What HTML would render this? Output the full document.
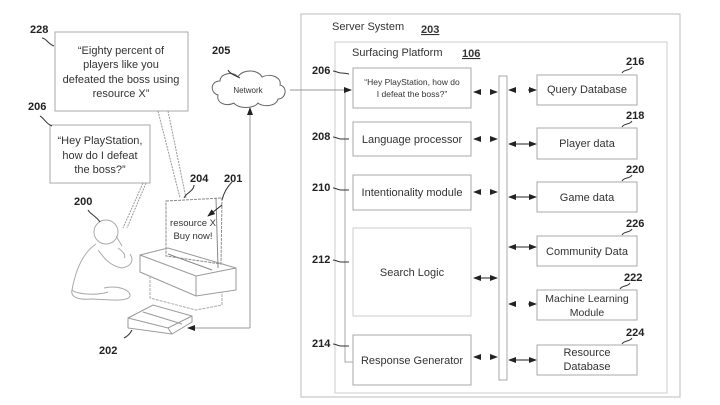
<!DOCTYPE html>
<html><head><meta charset="utf-8"><style>
html,body{margin:0;padding:0;background:#fff}
svg{display:block}
text{font-family:"Liberation Sans",sans-serif;fill:#333}
.b{font-weight:bold;fill:#222;font-size:11px}
</style></head><body>
<svg width="720" height="405" viewBox="0 0 720 405" xmlns="http://www.w3.org/2000/svg">
<defs>
<marker id="a" markerWidth="8" markerHeight="6" refX="7" refY="3" orient="auto" markerUnits="userSpaceOnUse"><path d="M0,0L8,3L0,6z" fill="#222"/></marker>
</defs>
<g fill="none" stroke="#aaa" stroke-width="1">
<rect x="55" y="32" width="133" height="79"/>
<rect x="50" y="125" width="100" height="58"/>
<rect x="301" y="14" width="379" height="383" stroke="#bbb"/>
<rect x="335" y="42" width="332" height="351" stroke="#ccc"/>
<rect x="353" y="68" width="118" height="40"/>
<rect x="353" y="122" width="118" height="34"/>
<rect x="353" y="175" width="118" height="35"/>
<rect x="353" y="228" width="118" height="88" stroke="#ccc"/>
<rect x="353" y="335" width="118" height="50"/>
<rect x="499" y="76" width="8" height="304"/>
<rect x="537" y="75" width="100" height="30"/>
<rect x="537" y="128" width="100" height="31"/>
<rect x="537" y="182" width="100" height="30"/>
<rect x="537" y="236" width="100" height="30"/>
<rect x="537" y="290" width="100" height="30"/>
<rect x="537" y="345" width="100" height="30"/>
<path d="M345,92V362H353"/>
<path d="M290,90H351" marker-end="url(#a)" stroke="#999"/>
<path d="M250,328V108" marker-end="url(#a)" stroke="#999"/>
<path d="M250,328H188" marker-end="url(#a)" stroke="#999"/>
<path d="M218,95c-8,-2 -8,-14 2,-14c0,-8 14,-10 18,-4c4,-8 20,-8 24,0c8,-4 20,0 18,8c8,2 6,14 -2,14c-2,8 -16,8 -20,4c-4,6 -20,6 -24,0c-8,4 -18,0 -16,-8z" stroke="#666"/>
<path d="M158,111L180,198M168,111L186,198" stroke-dasharray="2,1" stroke="#999"/>
<path d="M143,183L123,228M146,183L127,228" stroke-dasharray="2,1" stroke="#999"/>
<path d="M166,201L222,198L221,264L166,256Z" stroke-dasharray="3,1" stroke="#888"/>
<path d="M216,198L218,268" stroke="#888"/>
<path d="M168,254L212,270" stroke="#888"/>
<path d="M140,255L168,248L236,268L236,290L196,296L140,272Z M140,255L140,272 M140,255L196,276L236,268 M196,276L196,296" stroke="#999"/>
<path d="M150,276L150,298L196,310L222,305L222,292" stroke-dasharray="3,1"/>
<path d="M128,318L153,305L192,316L192,322L172,334L128,328Z M128,318L168,328L192,316 M168,328L172,334 M143,312L182,324" stroke="#999"/>
<g stroke="#aaa">
<circle cx="106" cy="232" r="12"/>
<path d="M96,244C84,252 76,268 72,290C70,298 80,300 92,299C110,300 128,302 130,296C131,290 118,285 104,288M98,250C104,258 110,266 122,268C132,266 134,260 130,254M116,236L122,246M118,248C124,252 126,256 124,258M72,290C76,294 96,296 108,292"/>
</g>
</g>
<g stroke="#222" stroke-width="1">
<path d="M480,92H474" marker-end="url(#a)"/><path d="M490,92H497" marker-end="url(#a)"/>
<path d="M480,139H474" marker-end="url(#a)"/><path d="M490,139H497" marker-end="url(#a)"/>
<path d="M480,192H474" marker-end="url(#a)"/><path d="M490,192H497" marker-end="url(#a)"/>
<path d="M474,278H497" marker-end="url(#a)"/><path d="M497,278H474" marker-end="url(#a)"/>
<path d="M480,357H474" marker-end="url(#a)"/><path d="M490,357H497" marker-end="url(#a)"/>
<path d="M515,90H509" marker-end="url(#a)"/><path d="M528,90H536" marker-end="url(#a)"/>
<path d="M509,144H536" marker-end="url(#a)"/><path d="M536,144H509" marker-end="url(#a)"/>
<path d="M509,197H536" marker-end="url(#a)"/><path d="M536,197H509" marker-end="url(#a)"/>
<path d="M509,247H536" marker-end="url(#a)"/><path d="M536,247H509" marker-end="url(#a)"/>
<path d="M515,304H509" marker-end="url(#a)"/><path d="M528,304H536" marker-end="url(#a)"/>
<path d="M509,360H536" marker-end="url(#a)"/><path d="M536,360H509" marker-end="url(#a)"/>
<path d="M222,205L208,216" marker-end="url(#a)"/>
</g>
<g fill="none" stroke="#333" stroke-width="1">
<path d="M42,38c4,0 6,6 12,8"/>
<path d="M40,116c4,2 6,8 12,10"/>
<path d="M88,210c2,4 8,6 12,12"/>
<path d="M194,185c0,6 -8,8 -10,13"/>
<path d="M232,182c-4,4 -8,10 -10,18"/>
<path d="M228,70c2,4 8,6 12,8"/>
<path d="M132,330c-2,4 -4,6 -8,8"/>
<path d="M333,71c3,0 5,2 8,2s4,0 8,1"/><path d="M333,137c3,0 5,2 8,2s4,0 8,0"/>
<path d="M333,188c3,0 5,2 8,2s4,0 8,0"/><path d="M333,260c3,0 5,2 8,2s4,0 8,0"/>
<path d="M333,344c3,0 5,2 8,2s4,0 8,0"/>
<path d="M622,73c2,-4 8,-2 10,-6"/><path d="M622,127c2,-4 8,-2 10,-6"/>
<path d="M622,181c2,-4 8,-2 10,-6"/><path d="M622,235c2,-4 8,-2 10,-6"/>
<path d="M620,289c2,-4 8,-2 10,-6"/><path d="M622,344c2,-4 8,-2 10,-6"/>
</g>
<text class="b" x="30" y="33">228</text>
<text class="b" x="28" y="110">206</text>
<text class="b" x="74" y="205">200</text>
<text class="b" x="190" y="182">204</text>
<text class="b" x="224" y="182">201</text>
<text class="b" x="212" y="54">205</text>
<text class="b" x="99" y="354">202</text>
<text class="b" x="312" y="74">206</text>
<text class="b" x="312" y="140">208</text>
<text class="b" x="312" y="191">210</text>
<text class="b" x="312" y="263">212</text>
<text class="b" x="312" y="347">214</text>
<text class="b" x="626" y="65">216</text>
<text class="b" x="626" y="119">218</text>
<text class="b" x="626" y="173">220</text>
<text class="b" x="626" y="227">226</text>
<text class="b" x="624" y="281">222</text>
<text class="b" x="626" y="336">224</text>
<g font-size="11" text-anchor="middle">
<text x="121" y="54">“Eighty percent of</text>
<text x="121" y="68">players like you</text>
<text x="121" y="83">defeated the boss using</text>
<text x="121" y="97">resource X”</text>
<text x="100" y="144">“Hey PlayStation,</text>
<text x="100" y="159">how do I defeat</text>
<text x="100" y="173">the boss?”</text>
<text x="193" y="226" font-size="9.5">resource X</text>
<text x="193" y="239" font-size="9.5">Buy now!</text>
<text x="248" y="93" font-size="8">Network</text>
<text x="412" y="85" font-size="8.5">“Hey PlayStation, how do</text>
<text x="412" y="97" font-size="8.5">I defeat the boss?”</text>
<text x="412" y="143">Language processor</text>
<text x="412" y="196">Intentionality module</text>
<text x="412" y="276">Search Logic</text>
<text x="412" y="364">Response Generator</text>
<text x="587" y="93">Query Database</text>
<text x="587" y="147">Player data</text>
<text x="587" y="201">Game data</text>
<text x="587" y="255">Community Data</text>
<text x="587" y="302" font-size="10.5">Machine Learning</text>
<text x="587" y="316" font-size="10.5">Module</text>
<text x="587" y="356">Resource</text>
<text x="587" y="370">Database</text>
</g>
<text x="332" y="30" font-size="11">Server System</text>
<text x="421" y="33" font-size="11" font-weight="bold" text-decoration="underline">203</text>
<text x="352" y="56" font-size="11">Surfacing Platform</text>
<text x="462" y="57" font-size="11" font-weight="bold" text-decoration="underline">106</text>
</svg>
</body></html>
